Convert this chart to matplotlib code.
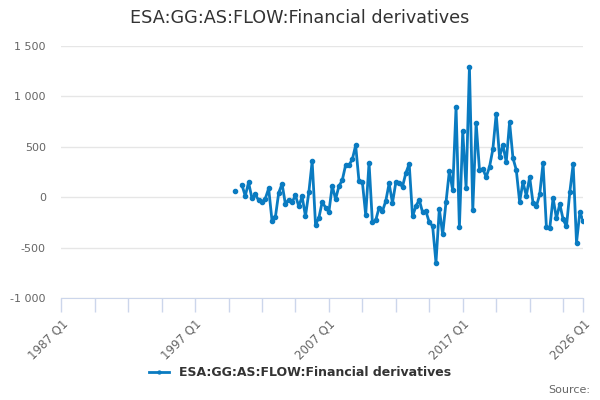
import matplotlib
matplotlib.use("Agg")
import matplotlib.pyplot as plt
import numpy as np

title = "ESA:GG:AS:FLOW:Financial derivatives"
series_name = "ESA:GG:AS:FLOW:Financial derivatives"
start_year, start_q = 2000, 1
values = [
    63, None, 123, 13, 146, -10, 27, -30, -50, -13, 87, -232, -199, 43, 133, -67,
    -23, -47, 17, -90, 7, -189, 47, 356, -272, -206, -47, -103, -146, 113, -20, 110,
    169, 319, 319, 375, 515, 156, 152, -176, 342, -249, -229, -103, -139, -37, 136, -57,
    146, 136, 105, 240, 331, -191, -88, -27, -150, -140, -250, -285, -650, -116, -370, -50,
    260, 70, 896, -300, 657, 90, 1295, -130, 740, 270, 280, 200, 300, 475, 827, 400,
    518, 350, 745, 390, 270, -46, 150, 14, 200, -56, -90, 27, 337, -295, -310, -7,
    -210, -67, -220, -290, 50, 330, -450, -150, -236,
]
axis_start = (1987, 1)
axis_end = (2026, 1)
label_quarters = ["1987 Q1", "1997 Q1", "2007 Q1", "2017 Q1", "2026 Q1"]
y_ticks = [-1000, -500, 0, 500, 1000, 1500]


def qidx(year, q):
    return year * 4 + (q - 1)


x0 = qidx(*axis_start)
x1 = qidx(*axis_end)
xs = np.array([qidx(start_year, start_q) + i for i in range(len(values))], dtype=float)
ys = np.array([np.nan if v is None else v for v in values], dtype=float)

plt.rcParams['font.family'] = ['DejaVu Sans']
fig = plt.figure(figsize=(6, 4), dpi=100)
ax = fig.add_axes([0.102, 0.255, 0.870, 0.630])

color = "#0a7bc1"
ax.plot(xs, ys, color=color, lw=2, marker="o", ms=3, mec=color, mfc=color,
        label=series_name, solid_joinstyle="round", zorder=3)

ax.set_xlim(x0, x1)
ax.set_ylim(-1000, 1500)
ax.tick_params(axis="y", length=0, pad=11)
ax.tick_params(axis="x", which="both", length=10, color="#ccd6eb", width=1, pad=4)
ax.set_yticks(y_ticks)
ax.set_yticklabels([f"{v:,}".replace(",", "\u00a0") for v in y_ticks],
                   color="#666666", fontsize=8)
ax.yaxis.grid(True, color="#e6e6e6", lw=1)

minor = list(range(x0, x1 + 1, 10)) + [x1]
ax.set_xticks(minor, minor=True)
lab_pos = []
for s in label_quarters:
    y, q = s.split(" Q")
    lab_pos.append(qidx(int(y), int(q)))
ax.set_xticks(lab_pos)
ax.set_xticklabels(label_quarters, color="#666666", fontsize=8.5)
for lab in ax.get_xticklabels():
    lab.set_rotation(45)
    lab.set_ha("right")
    lab.set_rotation_mode("anchor")

for s in ["top", "right", "left"]:
    ax.spines[s].set_visible(False)
ax.spines["bottom"].set_color("#ccd6eb")
ax.set_axisbelow(True)

fig.text(0.5, 0.955, title, ha="center", va="center", fontsize=12.7, color="#333333")

leg = fig.legend(loc="center", bbox_to_anchor=(0.5, 0.068), frameon=False,
                 prop={"weight": "bold", "size": 9}, handlelength=1.6, markerscale=0.7)
for t in leg.get_texts():
    t.set_color("#333333")
fig.text(0.983, 0.025, "Source:", ha="right", va="center", fontsize=8, color="#666666")

fig.savefig("out.png", dpi=100, facecolor="white")
